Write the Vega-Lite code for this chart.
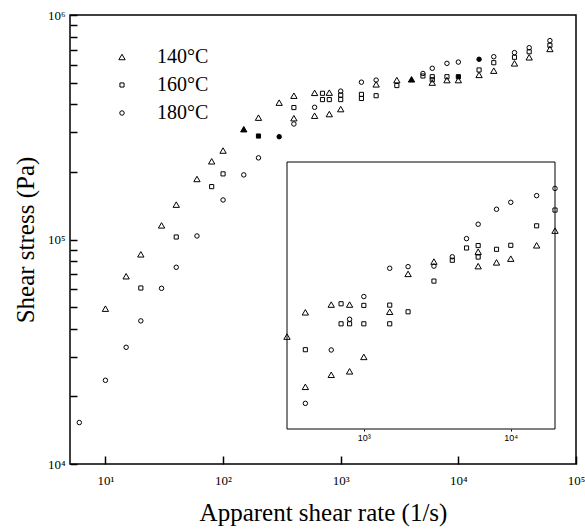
{
  "$schema": "https://vega.github.io/schema/vega-lite/v6.json",
  "width": 506,
  "height": 449,
  "autosize": {"type": "none"},
  "padding": {"left": 70, "top": 15, "right": 9, "bottom": 65},
  "background": "white",
  "config": {
    "view": {"stroke": "black", "strokeWidth": 1.5},
    "font": "Liberation Serif",
    "axis": {"grid": false, "domain": false, "tickColor": "black", "labelColor": "black", "titleColor": "black", "labelFont": "Liberation Serif", "titleFont": "Liberation Serif", "titleFontWeight": "normal", "labelOverlap": false, "labelFlush": false}
  },
  "datasets": {
    "main": [
      {"temp": "140°C", "rate": 10, "stress": 49200},
      {"temp": "140°C", "rate": 15, "stress": 68600},
      {"temp": "140°C", "rate": 20, "stress": 85900},
      {"temp": "140°C", "rate": 30, "stress": 115600},
      {"temp": "140°C", "rate": 40, "stress": 143000},
      {"temp": "140°C", "rate": 60, "stress": 186000},
      {"temp": "140°C", "rate": 80, "stress": 223000},
      {"temp": "140°C", "rate": 100, "stress": 249000},
      {"temp": "140°C", "rate": 150, "stress": 310000, "onset": true},
      {"temp": "140°C", "rate": 200, "stress": 349000},
      {"temp": "140°C", "rate": 300, "stress": 407000},
      {"temp": "140°C", "rate": 400, "stress": 437000},
      {"temp": "140°C", "rate": 400, "stress": 347000},
      {"temp": "140°C", "rate": 600, "stress": 450000},
      {"temp": "140°C", "rate": 600, "stress": 356000},
      {"temp": "140°C", "rate": 800, "stress": 451000},
      {"temp": "140°C", "rate": 800, "stress": 362000},
      {"temp": "140°C", "rate": 1000, "stress": 381000},
      {"temp": "140°C", "rate": 2000, "stress": 491000},
      {"temp": "140°C", "rate": 3000, "stress": 513000},
      {"temp": "140°C", "rate": 4000, "stress": 517000, "onset": true},
      {"temp": "140°C", "rate": 6000, "stress": 500000},
      {"temp": "140°C", "rate": 8000, "stress": 513000},
      {"temp": "140°C", "rate": 10000, "stress": 513000},
      {"temp": "140°C", "rate": 15000, "stress": 541000},
      {"temp": "140°C", "rate": 20000, "stress": 565000},
      {"temp": "140°C", "rate": 30000, "stress": 609000},
      {"temp": "140°C", "rate": 40000, "stress": 648000},
      {"temp": "140°C", "rate": 60000, "stress": 706000},
      {"temp": "160°C", "rate": 20, "stress": 60800},
      {"temp": "160°C", "rate": 40, "stress": 102600},
      {"temp": "160°C", "rate": 80, "stress": 172000},
      {"temp": "160°C", "rate": 100, "stress": 196000},
      {"temp": "160°C", "rate": 200, "stress": 289000, "onset": true},
      {"temp": "160°C", "rate": 400, "stress": 387000},
      {"temp": "160°C", "rate": 700, "stress": 448000},
      {"temp": "160°C", "rate": 700, "stress": 420000},
      {"temp": "160°C", "rate": 800, "stress": 420000},
      {"temp": "160°C", "rate": 1000, "stress": 440000},
      {"temp": "160°C", "rate": 1000, "stress": 420000},
      {"temp": "160°C", "rate": 1500, "stress": 443000},
      {"temp": "160°C", "rate": 1500, "stress": 425000},
      {"temp": "160°C", "rate": 2000, "stress": 437000},
      {"temp": "160°C", "rate": 3000, "stress": 485000},
      {"temp": "160°C", "rate": 5000, "stress": 535000},
      {"temp": "160°C", "rate": 6000, "stress": 531000},
      {"temp": "160°C", "rate": 6000, "stress": 515000},
      {"temp": "160°C", "rate": 8000, "stress": 531000},
      {"temp": "160°C", "rate": 10000, "stress": 531000, "onset": true},
      {"temp": "160°C", "rate": 15000, "stress": 569000},
      {"temp": "160°C", "rate": 20000, "stress": 613000},
      {"temp": "160°C", "rate": 30000, "stress": 648000},
      {"temp": "160°C", "rate": 40000, "stress": 686000},
      {"temp": "160°C", "rate": 60000, "stress": 733000},
      {"temp": "180°C", "rate": 6, "stress": 15300},
      {"temp": "180°C", "rate": 10, "stress": 23600},
      {"temp": "180°C", "rate": 15, "stress": 33100},
      {"temp": "180°C", "rate": 20, "stress": 43400},
      {"temp": "180°C", "rate": 30, "stress": 60600},
      {"temp": "180°C", "rate": 40, "stress": 75200},
      {"temp": "180°C", "rate": 60, "stress": 103700},
      {"temp": "180°C", "rate": 100, "stress": 150000},
      {"temp": "180°C", "rate": 150, "stress": 194000},
      {"temp": "180°C", "rate": 200, "stress": 231000},
      {"temp": "180°C", "rate": 300, "stress": 287000, "onset": true},
      {"temp": "180°C", "rate": 400, "stress": 327000},
      {"temp": "180°C", "rate": 600, "stress": 388000},
      {"temp": "180°C", "rate": 1000, "stress": 458000},
      {"temp": "180°C", "rate": 1500, "stress": 502000},
      {"temp": "180°C", "rate": 2000, "stress": 513000},
      {"temp": "180°C", "rate": 5000, "stress": 549000},
      {"temp": "180°C", "rate": 6000, "stress": 579000},
      {"temp": "180°C", "rate": 8000, "stress": 609000},
      {"temp": "180°C", "rate": 10000, "stress": 617000},
      {"temp": "180°C", "rate": 15000, "stress": 635000, "onset": true},
      {"temp": "180°C", "rate": 20000, "stress": 652000},
      {"temp": "180°C", "rate": 30000, "stress": 680000},
      {"temp": "180°C", "rate": 40000, "stress": 715000},
      {"temp": "180°C", "rate": 60000, "stress": 769000}
    ],
    "inset": [
      {"temp": "140°C", "rate": 300, "value": 34.6},
      {"temp": "140°C", "rate": 400, "value": 43.7},
      {"temp": "140°C", "rate": 400, "value": 15.8},
      {"temp": "140°C", "rate": 600, "value": 46.6},
      {"temp": "140°C", "rate": 600, "value": 20.3},
      {"temp": "140°C", "rate": 800, "value": 46.6},
      {"temp": "140°C", "rate": 800, "value": 21.6},
      {"temp": "140°C", "rate": 1000, "value": 27.0},
      {"temp": "140°C", "rate": 1500, "value": 43.9},
      {"temp": "140°C", "rate": 2000, "value": 58.1},
      {"temp": "140°C", "rate": 3000, "value": 62.7},
      {"temp": "140°C", "rate": 6000, "value": 66.4},
      {"temp": "140°C", "rate": 6000, "value": 61.0},
      {"temp": "140°C", "rate": 8000, "value": 62.4},
      {"temp": "140°C", "rate": 10000, "value": 63.8},
      {"temp": "140°C", "rate": 15000, "value": 68.8},
      {"temp": "140°C", "rate": 20000, "value": 74.3},
      {"temp": "160°C", "rate": 400, "value": 29.7},
      {"temp": "160°C", "rate": 700, "value": 46.9},
      {"temp": "160°C", "rate": 700, "value": 39.4},
      {"temp": "160°C", "rate": 800, "value": 39.4},
      {"temp": "160°C", "rate": 1000, "value": 46.3},
      {"temp": "160°C", "rate": 1000, "value": 39.4},
      {"temp": "160°C", "rate": 1500, "value": 46.4},
      {"temp": "160°C", "rate": 1500, "value": 39.4},
      {"temp": "160°C", "rate": 2000, "value": 43.9},
      {"temp": "160°C", "rate": 3000, "value": 55.4},
      {"temp": "160°C", "rate": 4000, "value": 63.2},
      {"temp": "160°C", "rate": 5000, "value": 67.8},
      {"temp": "160°C", "rate": 6000, "value": 68.7},
      {"temp": "160°C", "rate": 6000, "value": 64.4},
      {"temp": "160°C", "rate": 8000, "value": 67.3},
      {"temp": "160°C", "rate": 10000, "value": 68.8},
      {"temp": "160°C", "rate": 15000, "value": 76.1},
      {"temp": "160°C", "rate": 20000, "value": 82.0},
      {"temp": "180°C", "rate": 400, "value": 9.6},
      {"temp": "180°C", "rate": 600, "value": 29.6},
      {"temp": "180°C", "rate": 800, "value": 41.1},
      {"temp": "180°C", "rate": 1000, "value": 49.6},
      {"temp": "180°C", "rate": 1500, "value": 60.2},
      {"temp": "180°C", "rate": 2000, "value": 60.8},
      {"temp": "180°C", "rate": 3000, "value": 61.0},
      {"temp": "180°C", "rate": 4000, "value": 64.5},
      {"temp": "180°C", "rate": 5000, "value": 71.3},
      {"temp": "180°C", "rate": 6000, "value": 76.7},
      {"temp": "180°C", "rate": 8000, "value": 82.3},
      {"temp": "180°C", "rate": 10000, "value": 84.9},
      {"temp": "180°C", "rate": 15000, "value": 87.4},
      {"temp": "180°C", "rate": 20000, "value": 90.1}
    ],
    "insetFrame": [
      {"x0": 300, "x1": 20000, "y0": 0, "y1": 100}
    ]
  },
  "layer": [
    {
      "data": {"name": "main"},
      "mark": {"type": "point", "filled": true, "stroke": "black", "strokeWidth": 1, "opacity": 1},
      "encoding": {
        "x": {
          "field": "rate", "type": "quantitative",
          "scale": {"type": "log", "domain": [5, 100000], "nice": false},
          "axis": {
            "values": [10, 100, 1000, 10000, 100000],
            "labelExpr": "datum.value == 10 ? '10¹' : datum.value == 100 ? '10²' : datum.value == 1000 ? '10³' : datum.value == 10000 ? '10⁴' : '10⁵'",
            "tickSize": -8, "tickWidth": 1.5, "labelPadding": 18, "labelFontSize": 13,
            "title": "Apparent shear rate (1/s)", "titleFontSize": 25, "titlePadding": 13
          }
        },
        "y": {
          "field": "stress", "type": "quantitative",
          "scale": {"type": "log", "domain": [10000, 1000000], "nice": false},
          "axis": {
            "values": [10000, 20000, 30000, 40000, 50000, 60000, 70000, 80000, 90000, 100000, 200000, 300000, 400000, 500000, 600000, 700000, 800000, 900000, 1000000],
            "labelExpr": "datum.value == 10000 ? '10⁴' : datum.value == 100000 ? '10⁵' : datum.value == 1000000 ? '10⁶' : ''",
            "tickSize": -7, "tickWidth": 1.5, "labelPadding": 12, "labelFontSize": 13,
            "title": "Shear stress (Pa)", "titleFontSize": 25, "titlePadding": 9
          }
        },
        "shape": {
          "field": "temp", "type": "nominal",
          "scale": {"domain": ["140°C", "160°C", "180°C"], "range": ["triangle-up", "square", "circle"]},
          "legend": {
            "orient": "none", "legendX": 42, "legendY": 32, "title": null,
            "labelFont": "Liberation Serif", "labelFontSize": 20, "labelColor": "black",
            "rowPadding": 8, "labelOffset": 25,
            "symbolStrokeColor": "black", "symbolFillColor": "transparent", "symbolStrokeWidth": 1
          }
        },
        "size": {
          "field": "temp", "type": "nominal",
          "scale": {"type": "ordinal", "domain": ["140°C", "160°C", "180°C"], "range": [40, 17, 20]}
        },
        "fill": {"condition": {"test": "datum.onset", "value": "black"}, "value": "transparent"}
      }
    },
    {
      "data": {"name": "insetFrame"},
      "mark": {"type": "rect", "fill": "transparent", "stroke": "black", "strokeWidth": 1},
      "encoding": {
        "x": {"field": "x0", "type": "quantitative", "scale": {"type": "log", "domain": [300, 20000], "range": [217, 485], "nice": false}, "axis": null},
        "x2": {"field": "x1"},
        "y": {"field": "y0", "type": "quantitative", "scale": {"domain": [0, 100], "range": [414, 147], "nice": false, "zero": false}, "axis": null},
        "y2": {"field": "y1"}
      }
    },
    {
      "data": {"name": "inset"},
      "mark": {"type": "point", "filled": true, "stroke": "black", "strokeWidth": 1, "fill": "transparent", "opacity": 1},
      "encoding": {
        "x": {
          "field": "rate", "type": "quantitative",
          "scale": {"type": "log", "domain": [300, 20000], "range": [217, 485], "nice": false},
          "axis": {
            "orient": "bottom", "offset": -35, "values": [1000, 10000],
            "labelExpr": "datum.value == 1000 ? '10³' : '10⁴'",
            "tickSize": 2, "tickWidth": 1, "labelPadding": 2,
            "labelFont": "Liberation Sans", "labelFontSize": 9, "title": null
          }
        },
        "y": {
          "field": "value", "type": "quantitative",
          "scale": {"domain": [0, 100], "range": [414, 147], "nice": false, "zero": false},
          "axis": null
        },
        "shape": {
          "field": "temp", "type": "nominal",
          "scale": {"domain": ["140°C", "160°C", "180°C"], "range": ["triangle-up", "square", "circle"]}
        },
        "size": {
          "field": "temp", "type": "nominal",
          "scale": {"type": "ordinal", "domain": ["140°C", "160°C", "180°C"], "range": [40, 17, 20]}
        }
      }
    }
  ],
  "resolve": {"scale": {"x": "independent", "y": "independent", "shape": "shared", "size": "shared"}}
}
